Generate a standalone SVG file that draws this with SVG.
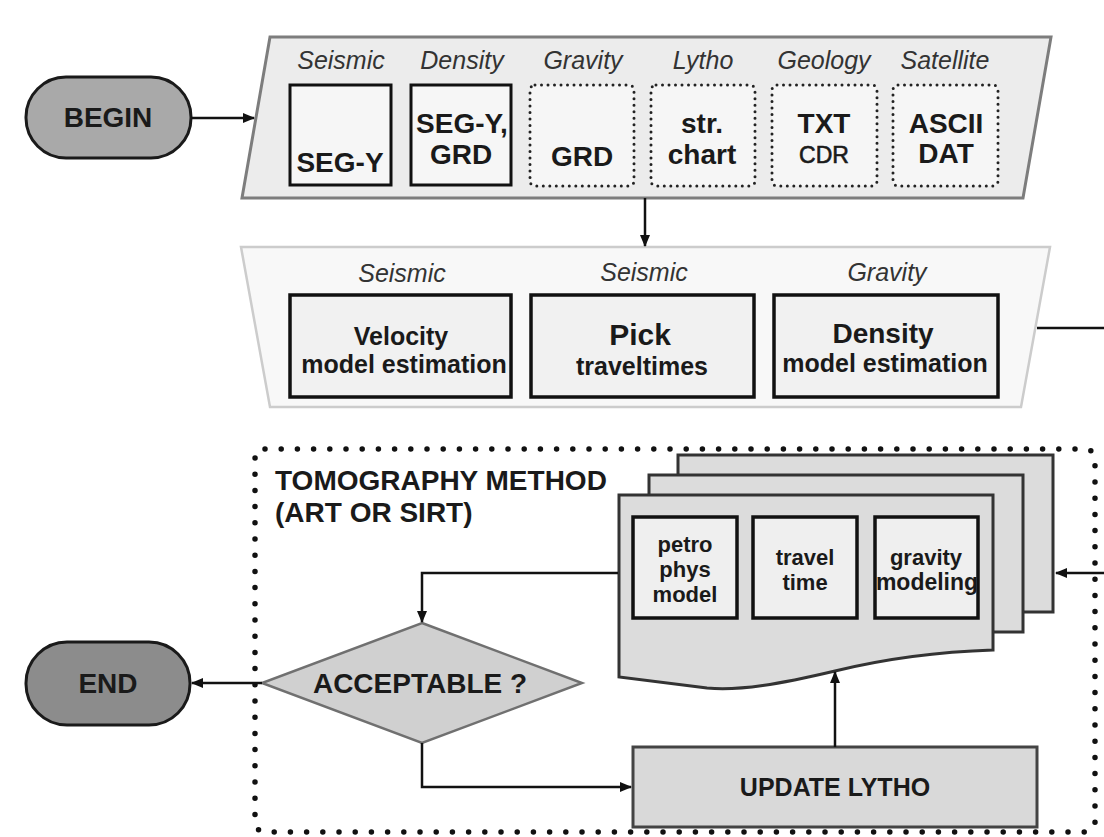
<svg xmlns="http://www.w3.org/2000/svg" width="1104" height="837" viewBox="0 0 1104 837">
<style>
  text { font-family: "Liberation Sans", Arial, sans-serif; fill: #1a1a1a; }
  .b { font-weight: bold; }
  .lab { font-style: italic; font-size: 25px; fill: #333; }
  .t28 { font-size: 28px; font-weight: bold; }
  .t25 { font-size: 25px; font-weight: bold; }
  .t22 { font-size: 22px; font-weight: bold; }
  .solid { fill: #f6f6f6; stroke: #111; stroke-width: 3; }
  .dot { fill: #f6f6f6; stroke: #222; stroke-width: 3; stroke-dasharray: 0 6.5; stroke-linecap: round; }
  .mbox { fill: #f1f1f1; stroke: #111; stroke-width: 3.5; }
  .card { fill: #dcdcdc; stroke: #333; stroke-width: 3; }
  .ibox { fill: #efefef; stroke: #111; stroke-width: 3.5; }
  .conn { fill: none; stroke: #111; stroke-width: 2.5; }
</style>
<defs>
  <marker id="ah" markerUnits="userSpaceOnUse" markerWidth="12" markerHeight="10" refX="11" refY="5" orient="auto">
    <path d="M0,0 L12,5 L0,10 Z" fill="#111"/>
  </marker>
</defs>
<rect width="1104" height="837" fill="#ffffff"/>

<!-- Tomography dotted frame -->
<g id="tomography">
  <rect x="255" y="449" width="840" height="383" rx="10" fill="none" stroke="#111" stroke-width="5.5" stroke-dasharray="0 16.2" stroke-linecap="round"/>
  <text class="t28" x="275" y="490">TOMOGRAPHY METHOD</text>
  <text class="t28" x="275" y="522">(ART OR SIRT)</text>
</g>

<!-- BEGIN -->
<g id="begin">
  <rect x="26" y="77" width="165" height="81" rx="40" fill="#a9a9a9" stroke="#1a1a1a" stroke-width="3"/>
  <text class="t28" x="108" y="127" text-anchor="middle">BEGIN</text>
</g>

<!-- Input data parallelogram -->
<g id="inputs">
  <polygon points="270,37 1051,37 1023,198 242,198" fill="#ececec" stroke="#7d7d7d" stroke-width="3"/>
  <text class="lab" x="341" y="69" text-anchor="middle">Seismic</text>
  <text class="lab" x="462" y="69" text-anchor="middle">Density</text>
  <text class="lab" x="583" y="69" text-anchor="middle">Gravity</text>
  <text class="lab" x="703" y="69" text-anchor="middle">Lytho</text>
  <text class="lab" x="824" y="69" text-anchor="middle">Geology</text>
  <text class="lab" x="945" y="69" text-anchor="middle">Satellite</text>

  <g id="in-seismic">
    <rect class="solid" x="290" y="85" width="101" height="100"/>
    <text class="t28" x="340" y="172" text-anchor="middle">SEG-Y</text>
  </g>
  <g id="in-density">
    <rect class="solid" x="411" y="85" width="100" height="100"/>
    <text class="t28" x="462" y="133" text-anchor="middle">SEG-Y,</text>
    <text class="t28" x="461" y="164" text-anchor="middle">GRD</text>
  </g>
  <g id="in-gravity">
    <rect class="dot" x="530" y="85" width="104" height="101" rx="5"/>
    <text class="t28" x="582" y="166" text-anchor="middle">GRD</text>
  </g>
  <g id="in-lytho">
    <rect class="dot" x="651" y="85" width="104" height="101" rx="5"/>
    <text class="t28" x="702" y="133" text-anchor="middle">str.</text>
    <text class="t28" x="702" y="164" text-anchor="middle">chart</text>
  </g>
  <g id="in-geology">
    <rect class="dot" x="772" y="85" width="105" height="101" rx="5"/>
    <text class="t28" x="824" y="133" text-anchor="middle">TXT</text>
    <text font-size="23" x="824" y="163" text-anchor="middle" stroke="#1a1a1a" stroke-width="0.6">CDR</text>
  </g>
  <g id="in-satellite">
    <rect class="dot" x="893" y="85" width="105" height="101" rx="5"/>
    <text class="t28" x="946" y="133" text-anchor="middle">ASCII</text>
    <text class="t28" x="946" y="163" text-anchor="middle">DAT</text>
  </g>
</g>

<!-- Estimation trapezoid -->
<g id="estimation">
  <polygon points="241,247 1050,247 1021,407 270,407" fill="#f8f8f8" stroke="#cccccc" stroke-width="2.5"/>
  <text class="lab" x="402" y="282" text-anchor="middle">Seismic</text>
  <text class="lab" x="644" y="281" text-anchor="middle">Seismic</text>
  <text class="lab" x="887" y="281" text-anchor="middle">Gravity</text>
  <g id="velocity">
    <rect class="mbox" x="290" y="295" width="221" height="102"/>
    <text class="t25" x="401" y="345" text-anchor="middle">Velocity</text>
    <text class="t25" x="404" y="373" text-anchor="middle">model estimation</text>
  </g>
  <g id="pick">
    <rect class="mbox" x="531" y="295" width="223" height="102"/>
    <text class="b" font-size="30" x="640" y="345" text-anchor="middle">Pick</text>
    <text class="t25" x="642" y="375" text-anchor="middle">traveltimes</text>
  </g>
  <g id="density">
    <rect class="mbox" x="774" y="295" width="224" height="102"/>
    <text class="t28" x="883" y="343" text-anchor="middle">Density</text>
    <text class="t25" x="885" y="372" text-anchor="middle">model estimation</text>
  </g>
</g>

<!-- Stacked cards -->
<g id="cards">
  <rect class="card" x="678" y="455" width="375" height="157"/>
  <rect class="card" x="649" y="475" width="374" height="157"/>
  <path class="card" d="M619,495 H993 V650 C930,652 880,660 835,671 C780,684 740,691 707,688 L619,677 Z"/>
  <g id="petro">
    <rect class="ibox" x="633" y="517" width="104" height="101"/>
    <text class="t22" x="685" y="552" text-anchor="middle">petro</text>
    <text class="t22" x="685" y="577" text-anchor="middle">phys</text>
    <text class="t22" x="685" y="602" text-anchor="middle">model</text>
  </g>
  <g id="travel">
    <rect class="ibox" x="753" y="517" width="104" height="101"/>
    <text class="t22" x="805" y="565" text-anchor="middle">travel</text>
    <text class="t22" x="805" y="590" text-anchor="middle">time</text>
  </g>
  <g id="gravity">
    <rect class="ibox" x="875" y="517" width="103" height="101"/>
    <text class="t22" x="926" y="565" text-anchor="middle">gravity</text>
    <text class="b" font-size="23" x="927" y="590" text-anchor="middle">modeling</text>
  </g>
</g>

<!-- Decision -->
<g id="acceptable">
  <polygon points="422,623 582,683 422,743 262,683" fill="#d0d0d0" stroke="#707070" stroke-width="2.5"/>
  <text class="t28" x="420" y="693" text-anchor="middle">ACCEPTABLE ?</text>
</g>

<!-- END -->
<g id="end">
  <rect x="26" y="642" width="164" height="83" rx="41" fill="#8c8c8c" stroke="#1a1a1a" stroke-width="3"/>
  <text class="t28" x="108" y="693" text-anchor="middle">END</text>
</g>

<!-- UPDATE LYTHO -->
<g id="update">
  <rect x="633" y="747" width="404" height="80" fill="#d9d9d9" stroke="#444" stroke-width="3"/>
  <text class="t25" x="835" y="796" text-anchor="middle">UPDATE LYTHO</text>
</g>

<!-- Connectors -->
<g id="connectors">
  <path class="conn" d="M191,118 H254" marker-end="url(#ah)"/>
  <path class="conn" d="M645,198 V246" marker-end="url(#ah)"/>
  <path class="conn" d="M1037,328 H1112 V573 H1056" marker-end="url(#ah)"/>
  <path class="conn" d="M618,573 H422 V622" marker-end="url(#ah)"/>
  <path class="conn" d="M262,683 H192" marker-end="url(#ah)"/>
  <path class="conn" d="M422,743 V787 H631" marker-end="url(#ah)"/>
  <path class="conn" d="M835,747 V672" marker-end="url(#ah)"/>
</g>
</svg>
